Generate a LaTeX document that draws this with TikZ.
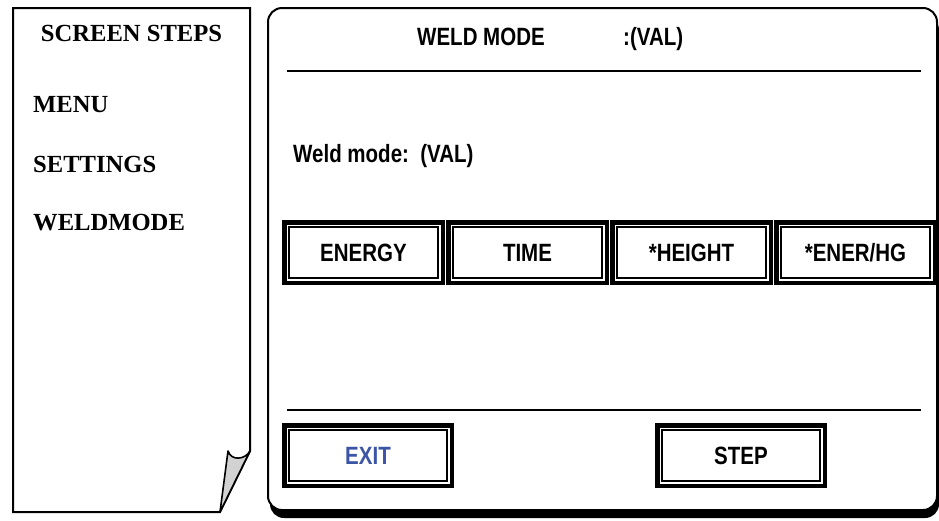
\documentclass[tikz,border=0pt]{standalone}
\usepackage{fontspec}
\setmainfont{Liberation Serif}
\newfontfamily\sansb[FakeStretch=0.82]{Liberation Sans}
\definecolor{exitblue}{RGB}{59,84,165}
\begin{document}
\begin{tikzpicture}[x=1pt,y=-1pt,
  serifl/.style={font=\fontsize{24.6}{29}\selectfont\bfseries, inner sep=0pt, anchor=base west},
  sansl/.style={font=\sansb\bfseries\fontsize{25}{30}\selectfont, inner sep=0pt, anchor=base west},
  btn/.style={draw, line width=4.5pt, outer sep=0pt, minimum width=#1, minimum height=60.5pt,
    inner sep=0pt, fill=white, text height=17.9pt, text depth=0pt,
    font=\sansb\bfseries\fontsize{25}{30}\selectfont},
  innerline/.style={line width=2pt}
]
\useasboundingbox (0,0) rectangle (939,520);
\fill[white] (0,0) rectangle (939,520);

% left page
\draw[line width=2pt, fill=white, line join=miter] (13,8) -- (250,8) -- (250,451) -- (220,512) -- (13,512) -- cycle;
\draw[line width=1.6pt, fill=gray!35, line join=round] (220,512) -- (228,451)
  .. controls (231,461) and (245,460) .. (250,451) -- cycle;

\node[serifl, anchor=base] (title) at (131.5,41) {SCREEN STEPS};
\node[serifl] (menu) at (33,112) {MENU};
\node[serifl] (settings) at (33,172) {SETTINGS};
\node[serifl] (weldmode) at (33,230) {WELDMODE};

% right panel
\fill[black, rounded corners=14pt] (270,16) rectangle (939,518);
\draw[line width=2pt, fill=white, rounded corners=14pt] (268,8) rectangle (937,510);

\node[sansl] (hdr) at (417,45) {WELD MODE};
\node[sansl] (hdrval) at (623,45) {:(VAL)};
\draw[line width=2pt] (287,71) -- (921,71);
\node[sansl] (wm) at (293,162) {Weld mode:\ \ (VAL)};

\node[btn=158.5pt] (b1) at (363.5,252.5) {ENERGY};
\node[btn=158.5pt] (b2) at (527.5,252.5) {TIME};
\node[btn=158.5pt] (b3) at (691.5,252.5) {*HEIGHT};
\node[btn=158.5pt] (b4) at (855.5,252.5) {*ENER/HG};

\draw[line width=2pt] (287,410) -- (921,410);

\node[btn=167.5pt, text=exitblue] (exit) at (368,455.5) {EXIT};
\node[btn=167.5pt] (step) at (741,455.5) {STEP};

\foreach \n in {b1,b2,b3,b4,exit,step}
  \draw[innerline] ([shift={(4.75,4.75)}]\n.north west) rectangle ([shift={(-4.75,-4.75)}]\n.south east);
\end{tikzpicture}
\end{document}
